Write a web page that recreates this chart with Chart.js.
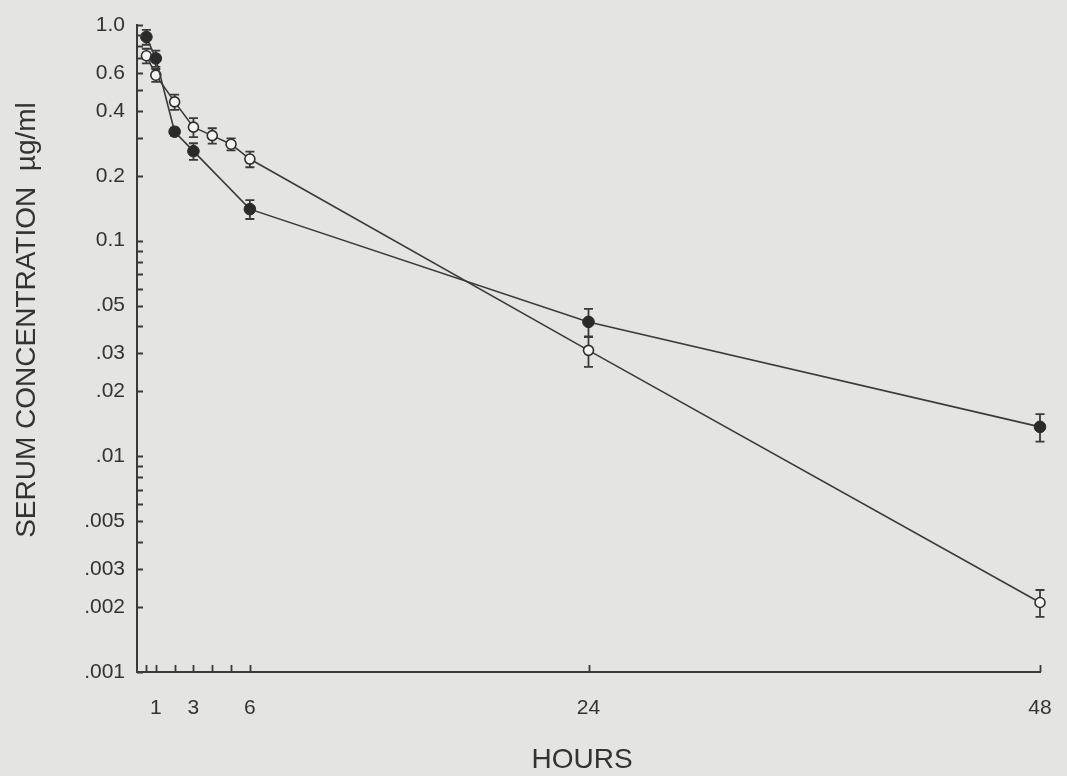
<!DOCTYPE html>
<html>
<head>
<meta charset="utf-8">
<script src="https://cdn.jsdelivr.net/npm/chart.js@4/dist/chart.umd.min.js"></script>
<style>
  html, body { margin: 0; padding: 0; background: #e4e4e2; }
  #wrap { width: 1067px; height: 776px; }
</style>
</head>
<body>
<div id="wrap"><canvas id="c" width="1067" height="776"></canvas></div>
<script>
// ---- data ----
const hoursFilled = [0.5, 1, 2, 3, 6, 24, 48];
const concFilled  = [0.88, 0.70, 0.32, 0.26, 0.14, 0.042, 0.0137];
const errFilled   = [0.07, 0.06, 0.014, 0.023, 0.014, 0.0063, 0.002];

const hoursOpen = [0.5, 1, 2, 3, 4, 5, 6, 24, 48];
const concOpen  = [0.72, 0.585, 0.44, 0.336, 0.307, 0.28, 0.239, 0.031, 0.0021];
const errOpen   = [0.056, 0.04, 0.036, 0.034, 0.025, 0.018, 0.02, 0.005, 0.0003];

const xTickValues = [0.5, 1, 2, 3, 4, 5, 6, 24, 48];
const xTickLabelValues = [1, 3, 6, 24, 48];
const yLabelValues = [1, 0.6, 0.4, 0.2, 0.1, 0.05, 0.03, 0.02, 0.01, 0.005, 0.003, 0.002, 0.001];
const yLabelTexts  = ['1.0', '0.6', '0.4', '0.2', '0.1', '.05', '.03', '.02', '.01', '.005', '.003', '.002', '.001'];
const yTitle = 'SERUM CONCENTRATION  \u00B5g/ml';
const xTitle = 'HOURS';

const INK = '#3a3a3a';
const BG = '#e4e4e2';
const FONT = '"Liberation Sans", Arial, sans-serif';

// minor+major tick values for the log axis (1..9 x 10^k)
const yTickValues = [];
[1000, 100, 10].forEach(d => { for (let m = 1; m <= 9; m++) yTickValues.push(m / d); });
yTickValues.push(1);

const toPts = (xs, ys) => xs.map((x, i) => ({ x: x, y: ys[i] }));

const bgPlugin = {
  id: 'bg',
  beforeDraw(chart) {
    const ctx = chart.ctx;
    ctx.save();
    ctx.fillStyle = BG;
    ctx.fillRect(0, 0, chart.width, chart.height);
    ctx.restore();
  }
};

const errPlugin = {
  id: 'errbars',
  beforeDatasetsDraw(chart) {
    const ctx = chart.ctx;
    const xs = chart.scales.x, ys = chart.scales.y;
    ctx.save();
    ctx.strokeStyle = INK;
    ctx.lineWidth = 1.8;
    chart.data.datasets.forEach(ds => {
      ds.data.forEach((p, i) => {
        const e = ds.errors[i];
        const px = xs.getPixelForValue(p.x);
        const yTop = ys.getPixelForValue(p.y + e);
        const yBot = ys.getPixelForValue(p.y - e);
        ctx.beginPath();
        ctx.moveTo(px, yTop); ctx.lineTo(px, yBot);
        ctx.moveTo(px - 4.5, yTop); ctx.lineTo(px + 4.5, yTop);
        ctx.moveTo(px - 4.5, yBot); ctx.lineTo(px + 4.5, yBot);
        ctx.stroke();
      });
    });
    ctx.restore();
  }
};

const axisPlugin = {
  id: 'axisdeco',
  afterDraw(chart) {
    const ctx = chart.ctx;
    const xs = chart.scales.x, ys = chart.scales.y;
    const a = chart.chartArea;
    ctx.save();
    ctx.strokeStyle = INK;
    ctx.lineWidth = 1.8;
    ctx.beginPath();
    // inward ticks on y axis
    yTickValues.forEach(v => {
      const py = Math.round(ys.getPixelForValue(v)) + 0.5;
      ctx.moveTo(a.left, py); ctx.lineTo(a.left + 6, py);
    });
    // inward ticks on x axis
    xTickValues.forEach(v => {
      const px = Math.round(xs.getPixelForValue(v)) + 0.5;
      ctx.moveTo(px, a.bottom); ctx.lineTo(px, a.bottom - 7);
    });
    ctx.stroke();

    // axis titles
    ctx.fillStyle = '#333';
    ctx.font = '28px ' + FONT;
    ctx.textAlign = 'center';
    ctx.textBaseline = 'middle';
    ctx.fillText(xTitle, 582, 760);
    ctx.translate(27, 320);
    ctx.rotate(-Math.PI / 2);
    ctx.fillText(yTitle, 0, 0);
    ctx.restore();
  }
};

new Chart(document.getElementById('c'), {
  type: 'scatter',
  data: {
    datasets: [
      {
        label: 'filled',
        data: toPts(hoursFilled, concFilled),
        errors: errFilled,
        showLine: true,
        borderColor: INK,
        borderWidth: 1.6,
        pointRadius: 5.8,
        pointBackgroundColor: '#2a2a2a',
        pointBorderColor: '#2a2a2a',
        pointBorderWidth: 1,
        clip: false
      },
      {
        label: 'open',
        data: toPts(hoursOpen, concOpen),
        errors: errOpen,
        showLine: true,
        borderColor: INK,
        borderWidth: 1.6,
        pointRadius: 5,
        pointBackgroundColor: '#f4f4f2',
        pointBorderColor: '#2f2f2f',
        pointBorderWidth: 1.6,
        clip: false
      }
    ]
  },
  options: {
    responsive: false,
    animation: false,
    devicePixelRatio: 1,
    layout: { padding: { left: 0, top: 25, right: 27, bottom: 0 } },
    plugins: { legend: { display: false }, tooltip: { enabled: false } },
    scales: {
      x: {
        type: 'linear',
        min: 0, max: 48,
        afterFit(s) { s.height = 104; s.paddingLeft = 0; s.paddingRight = 0; },
        afterBuildTicks(s) { s.ticks = xTickValues.map(v => ({ value: v })); },
        grid: { display: false, drawTicks: false },
        border: { display: true, color: INK, width: 2 },
        ticks: {
          autoSkip: false, maxRotation: 0, padding: 24,
          color: '#333',
          font: { family: FONT, size: 21 },
          callback: v => (xTickLabelValues.includes(v) ? String(v) : '')
        }
      },
      y: {
        type: 'logarithmic',
        min: 0.001, max: 1,
        afterFit(s) { s.width = 137; s.paddingTop = 0; s.paddingBottom = 0; },
        afterBuildTicks(s) { s.ticks = yTickValues.map(v => ({ value: v })); },
        grid: { display: false, drawTicks: false },
        border: { display: true, color: INK, width: 2 },
        ticks: {
          autoSkip: false, padding: 12,
          color: '#333',
          font: { family: FONT, size: 21 },
          callback: v => {
            const i = yLabelValues.findIndex(t => Math.abs(t - v) / t < 1e-6);
            return i >= 0 ? yLabelTexts[i] : '';
          }
        }
      }
    }
  },
  plugins: [bgPlugin, errPlugin, axisPlugin]
});
</script>
</body>
</html>
